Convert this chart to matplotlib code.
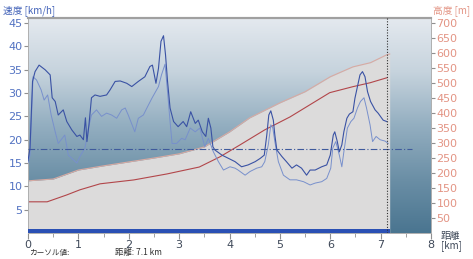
import matplotlib.pyplot as plt
import numpy as np
from matplotlib.colors import LinearSegmentedColormap

# speed, darker line
DIST_A = [0.0, 0.04, 0.09, 0.14, 0.22, 0.34, 0.44, 0.48, 0.54, 0.60, 0.70, 0.77, 0.87, 0.97, 1.03,
          1.10, 1.14, 1.17, 1.21, 1.26, 1.33, 1.43, 1.56, 1.63, 1.73, 1.83, 1.96, 2.06, 2.19, 2.32,
          2.42, 2.47, 2.54, 2.59, 2.64, 2.69, 2.73, 2.77, 2.82, 2.89, 2.98, 3.08, 3.15, 3.23, 3.32,
          3.38, 3.46, 3.53, 3.58, 3.63, 3.67, 3.71, 3.85, 3.98, 4.11, 4.24, 4.37, 4.51, 4.61, 4.69,
          4.74, 4.78, 4.82, 4.87, 4.90, 4.94, 5.04, 5.13, 5.24, 5.33, 5.43, 5.53, 5.60, 5.70, 5.83,
          5.93, 6.00, 6.06, 6.09, 6.14, 6.18, 6.23, 6.27, 6.33, 6.38, 6.45, 6.49, 6.54, 6.59, 6.64,
          6.69, 6.74, 6.80, 6.89, 6.95, 7.05, 7.12]
SPEED_A = [15.5, 18.2, 32.5, 34.6, 36.0, 35.0, 33.9, 29.0, 28.2, 25.3, 26.4, 23.9, 22.1, 20.7, 21.0,
           20.0, 24.7, 19.6, 23.2, 29.0, 29.6, 29.3, 29.6, 30.7, 32.5, 32.6, 32.1, 31.4, 32.5, 33.5,
           35.7, 36.0, 32.1, 35.3, 41.1, 42.3, 38.2, 32.5, 26.8, 23.9, 22.8, 23.9, 22.8, 26.0, 23.5,
           24.2, 21.7, 20.7, 24.6, 22.5, 18.5, 17.8, 16.7, 16.0, 15.3, 14.2, 14.6, 15.3, 16.0, 16.7,
           21.0, 25.3, 26.2, 24.2, 21.0, 17.8, 16.4, 15.3, 13.9, 14.6, 13.9, 12.4, 13.5, 13.5, 14.2,
           14.6, 16.7, 21.0, 21.7, 19.6, 17.4, 18.9, 21.7, 24.6, 25.5, 26.0, 28.9, 31.4, 33.9, 34.6,
           33.5, 30.3, 28.2, 26.4, 25.7, 24.2, 23.9]

# speed, lighter line
DIST_B = [0.0, 0.04, 0.10, 0.17, 0.26, 0.32, 0.39, 0.46, 0.54, 0.60, 0.68, 0.73, 0.80, 0.90, 0.97,
          1.03, 1.13, 1.20, 1.26, 1.36, 1.46, 1.56, 1.66, 1.76, 1.86, 1.93, 1.99, 2.12, 2.19, 2.29,
          2.36, 2.46, 2.59, 2.65, 2.72, 2.77, 2.82, 2.86, 2.95, 3.05, 3.12, 3.22, 3.32, 3.41, 3.51,
          3.58, 3.68, 3.78, 3.88, 4.01, 4.11, 4.17, 4.31, 4.41, 4.54, 4.64, 4.70, 4.77, 4.82, 4.86,
          4.90, 4.97, 5.07, 5.20, 5.33, 5.47, 5.60, 5.70, 5.83, 5.93, 6.01, 6.05, 6.11, 6.18, 6.23,
          6.27, 6.34, 6.41, 6.47, 6.54, 6.60, 6.67, 6.72, 6.79, 6.84, 6.91, 6.99, 7.09, 7.15]
SPEED_B = [15.0, 16.7, 33.5, 32.8, 30.7, 28.5, 29.6, 25.3, 21.7, 19.2, 20.3, 21.0, 16.7, 15.7, 15.0,
           16.4, 18.2, 22.5, 25.3, 26.4, 25.0, 25.7, 25.3, 24.6, 26.4, 26.8, 25.3, 21.7, 24.6, 25.3,
           26.8, 28.9, 31.4, 33.9, 36.2, 30.3, 23.9, 19.2, 19.2, 20.3, 20.0, 22.5, 21.7, 22.5, 18.5,
           20.3, 17.4, 15.3, 13.5, 14.2, 13.9, 13.5, 12.4, 13.2, 13.9, 14.2, 15.3, 18.9, 23.2, 22.5,
           19.6, 15.3, 12.4, 11.4, 11.4, 11.0, 10.3, 10.7, 11.0, 11.7, 13.9, 18.2, 19.6, 16.7, 14.2,
           17.4, 22.5, 23.9, 24.6, 26.8, 28.2, 29.0, 26.8, 23.2, 19.6, 20.7, 20.0, 19.7, 19.2]

# altitude: filled profile and second (darker) line
DIST_ALT = [0.0, 0.5, 1.0, 1.5, 2.0, 2.5, 3.0, 3.5, 4.0, 4.4, 5.0, 5.5, 6.0, 6.45, 6.8, 7.13, 7.18]
ALT_FILL = [174, 180, 210, 224, 237, 250, 264, 287, 337, 384, 434, 471, 521, 554, 568, 595, 597]

DIST_ALT2 = [0.0, 0.38, 0.77, 1.03, 1.43, 2.1, 2.76, 3.4, 3.81, 4.21, 4.7, 5.2, 5.99, 6.45, 6.79, 7.13]
ALT_LINE = [104, 104, 127, 144, 164, 177, 197, 220, 254, 294, 344, 387, 468, 488, 501, 518]

AVG_SPEED = 18.0
CURSOR_KM = 7.13
END_KM = 7.18

# colours
DARK_BLUE = "#3a52a4"
LIGHT_BLUE = "#7890cc"
ALT_RED = "#b2464a"
ALT_PINK = "#d8aaa2"
FILL_GREY = "#dcdbdb"
SPD_LABEL = "#5272c2"
ALT_LABEL = "#e39484"
CJK = ["Noto Sans CJK JP", "DejaVu Sans"]


def main():
    plt.rcParams["font.family"] = ["DejaVu Sans", "Noto Sans CJK JP"]
    fig = plt.figure(figsize=(4.73, 2.59), dpi=100)
    ax = fig.add_axes([28 / 473, 1 - 233 / 259, (431 - 28) / 473, (233 - 18) / 259])
    ax2 = ax.twinx()

    # background gradient
    cmap = LinearSegmentedColormap.from_list(
        "bg", [(0, "#e4e9ef"), (0.25, "#c6d3dd"), (0.5, "#93aec0"), (0.75, "#6b8fa6"), (1, "#4a7590")])
    grad = np.linspace(0, 1, 256).reshape(-1, 1)
    ax.imshow(grad, cmap=cmap, aspect="auto", extent=[0, 1, 0, 1],
              transform=ax.transAxes, zorder=0)

    # altitude on main axis (ticks on right)
    ax.fill_between(DIST_ALT, 0, ALT_FILL, color=FILL_GREY, lw=0, zorder=1)
    ax.plot(DIST_ALT, ALT_FILL, color=ALT_PINK, lw=0.8, zorder=2)
    ax.plot(DIST_ALT2, ALT_LINE, color=ALT_RED, lw=0.8, zorder=2)
    ax.set_ylim(0, 717)
    ax.set_xlim(0, 8)
    ax.yaxis.tick_right()
    ax.yaxis.set_label_position("right")
    ax.set_yticks(range(50, 701, 50))
    ax.tick_params(axis="y", colors="#909090", labelcolor=ALT_LABEL, labelsize=8, length=3, pad=1)

    ax.set_xticks(range(0, 9))
    ax.set_xticks(np.arange(0.5, 8, 1), minor=True)
    ax.tick_params(axis="x", colors="#909090", labelcolor="#404a5a", labelsize=8, length=4, pad=1)
    ax.tick_params(axis="x", which="minor", colors="#909090", length=3)

    # speed on twin axis (ticks on left)
    ax2.patch.set_visible(False)
    ax2.yaxis.tick_left()
    ax2.yaxis.set_label_position("left")
    ax2.set_ylim(0, 46.1)
    ax2.set_yticks(range(5, 46, 5))
    ax2.tick_params(axis="y", colors="#909090", labelcolor=SPD_LABEL, labelsize=8, length=3, pad=1)

    ax2.fill_between([0, END_KM], 0, 0.9, color="#2a50b4", lw=0, zorder=3)
    ax2.plot(DIST_B, SPEED_B, color=LIGHT_BLUE, lw=0.7, zorder=4)
    ax2.plot(DIST_A, SPEED_A, color=DARK_BLUE, lw=0.8, zorder=5)
    ax2.plot([0, 7.62], [AVG_SPEED, AVG_SPEED], color="#3f5a9c", lw=0.8,
             ls=(0, (6, 2, 1, 2)), zorder=6)
    ax2.axvline(CURSOR_KM, color="#303030", lw=0.8, ls=(0, (1, 1.5)), zorder=6)

    for a in (ax, ax2):
        for side in ("left", "right", "bottom"):
            a.spines[side].set_color("#b0b0b0")
            a.spines[side].set_linewidth(0.6)
        a.spines["top"].set_color("#a0a0a0")
        a.spines["top"].set_linewidth(1.5)

    fig.text(3 / 473, 1 - 11 / 259, "速度 [km/h]", color="#4262b8", fontsize=7,
             va="center", ha="left", family=CJK)
    fig.text(433 / 473, 1 - 11 / 259, "高度 [m]", color=ALT_LABEL, fontsize=7,
             va="center", ha="left", family=CJK)
    fig.text(441 / 473, 1 - 241 / 259, "距離\n[km]", color="#404a5a", fontsize=7,
             va="center", ha="left", linespacing=1.0, family=CJK)
    fig.text(29 / 473, 1 - 253 / 259, "カーソル値:", color="#303030", fontsize=5.5,
             va="center", ha="left", family=CJK)
    fig.text(115 / 473, 1 - 253 / 259, "距離: 7.1 km", color="#303030", fontsize=6,
             va="center", ha="left", family=CJK)

    fig.savefig("out.png", dpi=100)


if __name__ == "__main__":
    main()
